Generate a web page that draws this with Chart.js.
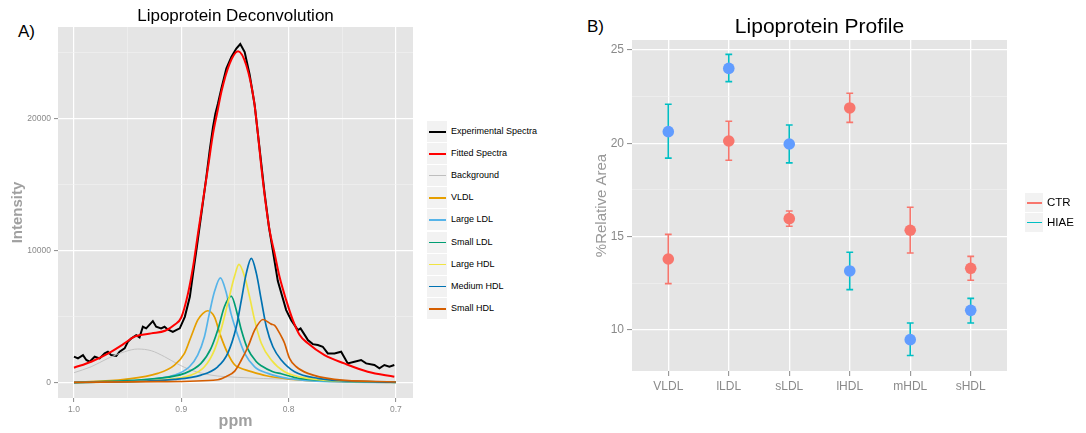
<!DOCTYPE html>
<html>
<head>
<meta charset="utf-8">
<script src="https://cdn.jsdelivr.net/npm/chart.js@4.4.0/dist/chart.umd.min.js"></script>
<style>
  html, body { margin:0; padding:0; background:#fff; width:1086px; height:433px; overflow:hidden;
    font-family:"Liberation Sans", Arial, sans-serif; }
  canvas { position:absolute; top:0; }
  #chartA { left:0; }
  #chartB { left:580px; }
  .tag { position:absolute; font-size:17px; color:#000; line-height:1; }
  .legend { position:absolute; }
  .item { position:absolute; left:0; white-space:nowrap; }
  .key { position:absolute; left:0; top:0; background:#F2F2F2; }
  .seg { position:absolute; }
  .lab { position:absolute; color:#000; }
</style>
</head>
<body>
<div class="tag" style="left:18px;top:23px;">A)</div>
<div class="tag" style="left:587px;top:18px;">B)</div>
<canvas id="chartA" width="420" height="433"></canvas>
<canvas id="chartB" width="480" height="433"></canvas>
<div class="legend" id="legendA" style="left:427px;top:121px;"></div>
<div class="legend" id="legendB" style="left:1025px;top:193px;"></div>
<script>
// ---------------- Panel A data: [ppm, intensity] ----------------
const experimentalSpectra = [[1.000,1990],[0.9963,1860],[0.9916,2110],[0.9885,1740],[0.9854,1610],[0.9807,1990],[0.9761,1860],[0.9714,2240],[0.9684,2365],[0.9653,2110],[0.9606,2040],[0.9575,2365],[0.9528,2620],[0.9498,3120],[0.9467,3370],[0.9420,3620],[0.9389,3450],[0.9358,4250],[0.9327,4130],[0.9265,4680],[0.9234,4250],[0.9188,4130],[0.9156,4250],[0.9126,4050],[0.9079,3870],[0.9048,4000],[0.9014,4130],[0.8967,5000],[0.8920,6510],[0.8890,8280],[0.8859,10040],[0.8812,12810],[0.8766,15570],[0.8735,17580],[0.8704,19340],[0.8682,20350],[0.8658,21110],[0.8626,22240],[0.8580,23750],[0.8533,24630],[0.8487,25260],[0.8450,25600],[0.8409,25000],[0.8363,23300],[0.8316,21000],[0.8270,17700],[0.8223,14300],[0.8183,11800],[0.8100,7700],[0.8022,5510],[0.7975,4750],[0.7913,4000],[0.7888,4130],[0.7835,3450],[0.7820,3250],[0.7774,2940],[0.7727,2870],[0.7681,2740],[0.7634,2240],[0.7572,2240],[0.7510,2365],[0.7448,1485],[0.7386,1610],[0.7324,1740],[0.7277,1485],[0.7200,1360],[0.7153,1110],[0.7107,1360],[0.7060,1230],[0.7014,1360]];
const fittedSpectra = [[1.000,1155],[0.984,1610],[0.968,2240],[0.953,2990],[0.9436,3500],[0.928,3750],[0.915,3950],[0.9063,4400],[0.900,4950],[0.8937,6770],[0.889,8780],[0.8844,11300],[0.8797,13810],[0.875,16320],[0.8704,18840],[0.8658,20700],[0.8626,22000],[0.8549,24130],[0.8471,25060],[0.8394,24000],[0.8323,21360],[0.8286,18840],[0.8254,16320],[0.8217,13810],[0.8177,11550],[0.813,9790],[0.8084,8020],[0.8022,6260],[0.796,4750],[0.7898,3650],[0.782,3000],[0.7665,2110],[0.748,1480],[0.7262,855],[0.7014,480]];
const backgroundCurve = [[1.000,780],[0.984,1230],[0.9684,1860],[0.9528,2365],[0.9405,2570],[0.928,2440],[0.9156,1990],[0.9033,1435],[0.8909,980],[0.8723,600],[0.8474,430],[0.799,280],[0.700,100]];
const vldl = [[1.000,50],[0.9528,280],[0.9219,730],[0.9063,1360],[0.897,2240],[0.8909,3500],[0.8847,4750],[0.880,5250],[0.8754,5460],[0.8691,5000],[0.8635,3600],[0.8567,2240],[0.8505,1400],[0.8456,1150],[0.8363,900],[0.8207,550],[0.7991,300],[0.759,130],[0.700,50]];
const largeLdl = [[1.000,30],[0.9374,225],[0.9063,600],[0.8924,1230],[0.8847,2110],[0.8784,3500],[0.8738,5260],[0.8691,6890],[0.8635,7950],[0.8583,6890],[0.8537,5260],[0.8474,3620],[0.8409,2240],[0.8316,1230],[0.8193,730],[0.8007,355],[0.7572,100],[0.700,40]];
const smallLdl = [[1.000,30],[0.9219,355],[0.897,730],[0.8816,1485],[0.8723,2620],[0.866,4000],[0.8598,5760],[0.8535,6570],[0.8471,5000],[0.844,4000],[0.8385,2650],[0.830,1610],[0.8254,1300],[0.8146,855],[0.8068,700],[0.7898,355],[0.700,50]];
const largeHdl = [[1.000,20],[0.9219,225],[0.8909,600],[0.8784,1230],[0.8691,2490],[0.863,4000],[0.8567,6015],[0.8505,8020],[0.8462,8960],[0.8409,8020],[0.8363,6510],[0.8316,4750],[0.8254,3000],[0.8161,1740],[0.8037,855],[0.782,355],[0.7262,100],[0.700,70]];
const mediumHdl = [[1.000,30],[0.9063,280],[0.8816,600],[0.866,1230],[0.8567,2240],[0.8487,4250],[0.844,6260],[0.8394,8280],[0.8347,9410],[0.830,8280],[0.8254,6260],[0.8207,4250],[0.8146,2740],[0.8068,1740],[0.7944,855],[0.7727,355],[0.7262,100],[0.700,70]];
const smallHdl = [[1.000,50],[0.9219,100],[0.866,250],[0.858,500],[0.8502,900],[0.844,1740],[0.8378,2740],[0.8316,4000],[0.8239,4800],[0.8161,4450],[0.813,4350],[0.81,4000],[0.8053,3300],[0.8037,3000],[0.7991,1860],[0.7928,1230],[0.782,730],[0.7572,280],[0.700,80]];

const seriesNames = ['Experimental Spectra','Fitted Spectra','Background','VLDL','Large LDL','Small LDL','Large HDL','Medium HDL','Small HDL'];
const ppmTicks = [1.0, 0.95, 0.9, 0.85, 0.8, 0.75, 0.7];
const intensityTicks = [0, 5000, 10000, 15000, 20000, 25000];

// ---------------- Panel B data ----------------
const categories = ['VLDL','lLDL','sLDL','lHDL','mHDL','sHDL'];
const ctrMean  = [13.80, 20.12, 15.96, 21.89, 15.34, 13.30];
const ctrLow   = [12.48, 19.09, 15.55, 21.12, 14.12, 12.66];
const ctrHigh  = [15.12, 21.18, 16.37, 22.68, 16.57, 13.94];
const hiaeMean = [20.62, 24.01, 19.96, 13.16, 9.48, 11.05];
const hiaeLow  = [19.20, 23.30, 18.95, 12.16, 8.63, 10.37];
const hiaeHigh = [22.09, 24.76, 20.98, 14.16, 10.37, 11.69];
const areaTicks = [10, 12.5, 15, 17.5, 20, 22.5, 25];

// ---------------- styles ----------------
const FONT = '"Liberation Sans", Arial, sans-serif';
Chart.defaults.font.family = FONT;
const seriesColors = ['#000000','#FF0000','#BEBEBE','#E69F00','#56B4E9','#009E73','#F0E442','#0072B2','#D55E00'];
const seriesWidths = [2, 2, 0.9, 1.7, 1.7, 1.7, 1.7, 1.7, 1.7];
const legendWidths = [2, 2, 1.3, 1.8, 1.8, 1.8, 1.8, 1.8, 1.8];
const TICK_COLOR = '#8a8a8a';
const isMajor = c => c.index % 2 === 0;

const panelBg = {
  id: 'panelBg',
  beforeDraw(chart) {
    const {ctx, chartArea: a} = chart;
    ctx.save();
    ctx.fillStyle = '#E5E5E5';
    ctx.fillRect(a.left, a.top, a.right - a.left, a.bottom - a.top);
    ctx.restore();
  }
};

const errorBars = {
  id: 'errorBars',
  beforeDatasetsDraw(chart) {
    const {ctx, scales: {x, y}} = chart;
    ctx.save();
    chart.data.datasets.forEach(ds => {
      if (!ds.errLow) return;
      ctx.strokeStyle = ds.errColor;
      ctx.lineWidth = 1.6;
      ds.data.forEach((p, i) => {
        const px = x.getPixelForValue(p.x);
        const yl = y.getPixelForValue(ds.errLow[i]);
        const yh = y.getPixelForValue(ds.errHigh[i]);
        ctx.beginPath();
        ctx.moveTo(px, yl); ctx.lineTo(px, yh);
        ctx.moveTo(px - 3.4, yl); ctx.lineTo(px + 3.4, yl);
        ctx.moveTo(px - 3.4, yh); ctx.lineTo(px + 3.4, yh);
        ctx.stroke();
      });
    });
    ctx.restore();
  }
};

function gridOpts(tickLen) {
  return {
    color: c => isMajor(c) ? '#FFFFFF' : '#F2F2F2',
    lineWidth: c => isMajor(c) ? 1.2 : 0.6,
    tickLength: tickLen,
    tickColor: c => isMajor(c) ? TICK_COLOR : 'rgba(0,0,0,0)',
    tickWidth: 1
  };
}

// ---------------- Chart A ----------------
const spectra = [experimentalSpectra, fittedSpectra, backgroundCurve, vldl, largeLdl, smallLdl, largeHdl, mediumHdl, smallHdl];
new Chart(document.getElementById('chartA'), {
  type: 'line',
  data: {
    datasets: spectra.map((s, i) => ({
      label: seriesNames[i],
      data: s.map(([x, y]) => ({x, y})),
      borderColor: seriesColors[i],
      borderWidth: seriesWidths[i],
      pointRadius: 0,
      fill: false,
      tension: i === 0 ? 0 : 0.4,
      cubicInterpolationMode: i === 0 ? 'default' : 'monotone',
      order: spectra.length - i
    }))
  },
  options: {
    responsive: false, animation: false, events: [],
    layout: { padding: { left: 0, right: 7, top: 0, bottom: 0 } },
    plugins: {
      legend: { display: false }, tooltip: { enabled: false },
      title: { display: true, fullSize: false, text: 'Lipoprotein Deconvolution', color: '#000',
        font: { size: 17, weight: 'normal' }, padding: { top: 6, bottom: 0.6 } }
    },
    scales: {
      x: {
        type: 'linear', reverse: true, min: 0.684, max: 1.0149,
        afterBuildTicks: a => { a.ticks = ppmTicks.map(v => ({value: v})); },
        afterFit: s => { s.height = 35; },
        ticks: { autoSkip: false, maxRotation: 0, padding: 3, color: TICK_COLOR, font: { size: 8.5 },
          callback: (v, i) => i % 2 === 0 ? Number(v).toFixed(1) : '' },
        grid: gridOpts(4),
        border: { display: false },
        title: { display: true, text: 'ppm', color: '#a0a0a0', font: { size: 16, weight: 'bold' }, padding: { top: 0, bottom: 2 } }
      },
      y: {
        type: 'linear', min: -1130, max: 26890,
        afterBuildTicks: a => { a.ticks = intensityTicks.map(v => ({value: v})); },
        afterFit: s => { s.width = 58; },
        ticks: { autoSkip: false, padding: 3, color: TICK_COLOR, font: { size: 8.5 },
          callback: (v, i) => i % 2 === 0 ? String(v) : '' },
        grid: gridOpts(4),
        border: { display: false },
        title: { display: true, text: 'Intensity', color: '#a0a0a0', font: { size: 15, weight: 'bold' }, padding: { top: 9, bottom: 0 } }
      }
    }
  },
  plugins: [panelBg]
});

// ---------------- Chart B ----------------
new Chart(document.getElementById('chartB'), {
  type: 'scatter',
  data: {
    datasets: [
      { label: 'CTR', data: categories.map((c, i) => ({x: i, y: ctrMean[i]})),
        backgroundColor: '#F8766D', borderColor: '#F8766D', pointRadius: 5.8, pointBorderWidth: 0,
        errLow: ctrLow, errHigh: ctrHigh, errColor: '#F8766D' },
      { label: 'HIAE', data: categories.map((c, i) => ({x: i, y: hiaeMean[i]})),
        backgroundColor: '#619CFF', borderColor: '#619CFF', pointRadius: 5.8, pointBorderWidth: 0,
        errLow: hiaeLow, errHigh: hiaeHigh, errColor: '#00BFC4' }
    ]
  },
  options: {
    responsive: false, animation: false, events: [],
    layout: { padding: { left: 0, right: 53, top: 0, bottom: 0 } },
    plugins: {
      legend: { display: false }, tooltip: { enabled: false },
      title: { display: true, fullSize: false, text: 'Lipoprotein Profile', color: '#000',
        font: { size: 21, weight: 'normal' }, padding: { top: 14.4, bottom: 0.4 } }
    },
    scales: {
      x: {
        type: 'linear', min: -0.6, max: 5.6,
        afterBuildTicks: a => { a.ticks = categories.map((c, i) => ({value: i})); },
        afterFit: s => { s.height = 62; },
        ticks: { autoSkip: false, maxRotation: 0, padding: 3, color: TICK_COLOR, font: { size: 12 },
          callback: v => categories[v] },
        grid: { color: '#FFFFFF', lineWidth: 1.3, tickLength: 5, tickColor: TICK_COLOR, tickWidth: 1 },
        border: { display: false }
      },
      y: {
        type: 'linear', min: 7.8, max: 25.53,
        afterBuildTicks: a => { a.ticks = areaTicks.map(v => ({value: v})); },
        afterFit: s => { s.width = 52; },
        ticks: { autoSkip: false, padding: 3, color: TICK_COLOR, font: { size: 12 },
          callback: (v, i) => i % 2 === 0 ? String(v) : '' },
        grid: gridOpts(5),
        border: { display: false },
        title: { display: true, text: '%Relative Area', color: '#999999', font: { size: 15 }, padding: { top: 13, bottom: 0 } }
      }
    }
  },
  plugins: [panelBg, errorBars]
});

// ---------------- HTML legends ----------------
function buildLegend(el, names, colors, widths, opts) {
  names.forEach((n, i) => {
    const it = document.createElement('div');
    it.className = 'item';
    it.style.top = (i * opts.pitch) + 'px';
    it.style.height = opts.keyH + 'px';
    const key = document.createElement('div');
    key.className = 'key';
    key.style.width = opts.keyW + 'px';
    key.style.height = opts.keyH + 'px';
    const seg = document.createElement('div');
    seg.className = 'seg';
    seg.style.backgroundColor = colors[i];
    seg.style.left = opts.segInset + 'px';
    seg.style.width = (opts.keyW - 2 * opts.segInset) + 'px';
    seg.style.height = widths[i] + 'px';
    seg.style.top = Math.round((opts.keyH - widths[i]) / 2) + 'px';
    key.appendChild(seg);
    const lab = document.createElement('div');
    lab.className = 'lab';
    lab.textContent = n;
    lab.style.left = opts.textX + 'px';
    lab.style.fontSize = opts.fontSize + 'px';
    lab.style.lineHeight = opts.keyH + 'px';
    lab.style.top = '0px';
    it.appendChild(key);
    it.appendChild(lab);
    el.appendChild(it);
  });
}
buildLegend(document.getElementById('legendA'), seriesNames, seriesColors, legendWidths,
  { pitch: 22.1, keyW: 20, keyH: 21, segInset: 1.5, textX: 24, fontSize: 9 });
buildLegend(document.getElementById('legendB'), ['CTR', 'HIAE'], ['#F8766D', '#00BFC4'], [1.6, 1.6],
  { pitch: 19.6, keyW: 18, keyH: 19, segInset: 1.5, textX: 22, fontSize: 11.5 });
</script>
</body>
</html>
